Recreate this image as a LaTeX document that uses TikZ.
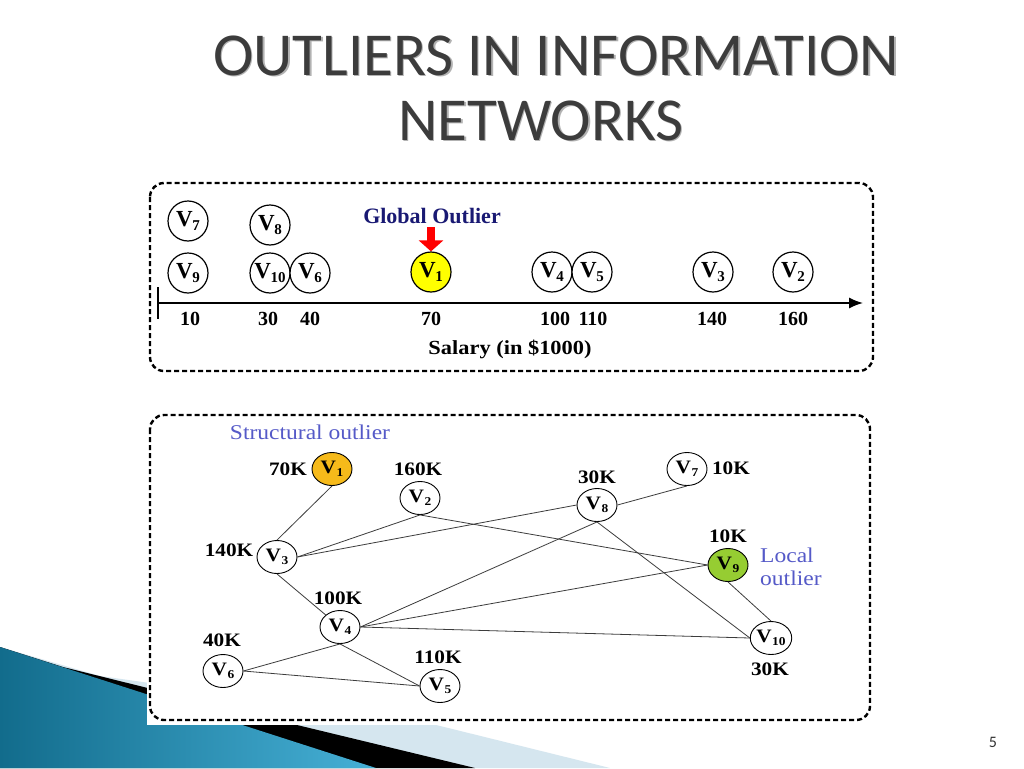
\documentclass[tikz,border=0pt]{standalone}
\usepackage{fontspec}
\setmainfont{Liberation Serif}
\newfontfamily\titlefont{Carlito}
\newfontfamily\gfont{Liberation Serif}[FakeStretch=1.12]
\usetikzlibrary{arrows.meta,shapes.geometric}
\definecolor{titlegray}{RGB}{60,60,60}
\definecolor{navyglobal}{RGB}{25,25,115}
\definecolor{slateblue}{RGB}{85,90,200}
\definecolor{vyellow}{RGB}{255,255,0}
\definecolor{vorange}{RGB}{246,186,26}
\definecolor{vgreen}{RGB}{150,205,50}
\definecolor{tealdark}{RGB}{18,108,140}
\definecolor{teallight}{RGB}{70,176,214}
\definecolor{paleblue}{RGB}{213,230,239}
\definecolor{edgegray}{RGB}{60,60,60}
\newcommand{\topV}[1]{V\kern-0.5pt\raisebox{-4pt}{\fontsize{15}{15}\selectfont #1}}
\newcommand{\grV}[1]{V\kern0.5pt\raisebox{-3.5pt}{\fontsize{12}{12}\selectfont #1}}
\begin{document}
\begin{tikzpicture}[x=1pt,y=-1pt,
  dashbox/.style={draw=black,line width=2.4pt,dash pattern=on 5pt off 3pt,rounded corners=14pt},
  tnode/.style={circle,draw=black,line width=1.2pt,minimum size=40pt,inner sep=0pt,fill=white,
    font=\fontsize{23}{23}\selectfont\bfseries},
  gnode/.style={ellipse,draw=black,line width=0.9pt,minimum width=40pt,minimum height=33pt,inner sep=0pt,fill=white,
    font=\gfont\fontsize{19}{19}\selectfont\bfseries},
  ticklab/.style={font=\fontsize{20}{20}\selectfont\bfseries,inner sep=0pt},
  glab/.style={font=\gfont\fontsize{19}{19}\selectfont\bfseries,inner sep=0pt},
  bluenote/.style={font=\gfont\fontsize{21}{23}\selectfont,text=slateblue,inner sep=0pt},
  gedge/.style={draw=edgegray,line width=0.8pt},
  titletext/.style={anchor=base west,inner sep=0pt,font=\titlefont\fontsize{61}{61}\selectfont}]
\useasboundingbox (0,0) rectangle (1024,768);
\fill[white] (0,0) rectangle (1024,768);
% corner decoration
\fill[paleblue] (0,647) -- (100,676) -- (420,721) -- (610,768) -- (0,768) -- cycle;
\fill[black] (0,647) -- (63,667) -- (297,725) -- (475,768) -- (0,768) -- cycle;
\shade[left color=tealdark,right color=teallight] (0,647) -- (376,768) -- (0,768) -- cycle;
\fill[white] (147,405) rectangle (880,725);
% title
\node[titletext,text=black!30] (t1s) at (214.5,76.5) {OUTLIERS IN INFORMATION};
\node[titletext,text=titlegray] (title1) at (213,75) {OUTLIERS IN INFORMATION};
\node[titletext,text=black!30] (t2s) at (399.5,141.5) {NETWORKS};
\node[titletext,text=titlegray] (title2) at (398,140) {NETWORKS};
\node[text=black!80,font=\titlefont\fontsize{16}{16}\selectfont,inner sep=0pt] (pagenum) at (993,742) {5};
% top box
\draw[dashbox] (150,183) rectangle (873,371);
\node[tnode] (t7) at (188,221) {\topV{7}};
\node[tnode] (t8) at (270,225) {\topV{8}};
\node[tnode] (t9) at (188,273) {\topV{9}};
\node[tnode] (t10) at (270,273) {\topV{10}};
\node[tnode] (t6) at (310,273) {\topV{6}};
\node[tnode,fill=vyellow] (t1) at (431,272) {\topV{1}};
\node[tnode] (t4) at (552,272) {\topV{4}};
\node[tnode] (t5) at (592,272) {\topV{5}};
\node[tnode] (t3) at (713,272) {\topV{3}};
\node[tnode] (t2) at (793,272) {\topV{2}};
\coordinate (ax0) at (158,303);
\coordinate (ax1) at (863,303);
\coordinate (tk0) at (158,287);
\coordinate (tk1) at (158,319);
\draw[line width=1.5pt] (tk0) -- (tk1);
\draw[line width=1.5pt,-{Latex[length=14pt,width=11pt]}] (ax0) -- (ax1);
\node[ticklab] (n10) at (190,319) {10};
\node[ticklab] (n30) at (268,319) {30};
\node[ticklab] (n40) at (310,319) {40};
\node[ticklab] (n70) at (431,319) {70};
\node[ticklab] (n100) at (555,319) {100};
\node[ticklab] (n110) at (593,319) {110};
\node[ticklab] (n140) at (712,319) {140};
\node[ticklab] (n160) at (793,319) {160};
\node[ticklab,font=\gfont\fontsize{20}{20}\selectfont\bfseries] (salary) at (510,349) {Salary (in \$1000)};
\node[ticklab,font=\fontsize{22}{22}\selectfont\bfseries,text=navyglobal] (global) at (432,216) {Global Outlier};
\coordinate (arrtop) at (431,227);
\draw[red,line width=8pt,-{Triangle[length=11pt,width=24pt]}] (arrtop) -- (t1.north);
% bottom box
\draw[dashbox] (150,415) rectangle (870,720);
\node[bluenote] (structural) at (310,432) {Structural outlier};
\node[gnode,fill=vorange] (g1) at (332,469) {\grV{1}};
\node[gnode] (g2) at (420,498) {\grV{2}};
\node[gnode] (g3) at (277,557) {\grV{3}};
\node[gnode] (g4) at (340,627) {\grV{4}};
\node[gnode] (g5) at (440,686) {\grV{5}};
\node[gnode] (g6) at (223,671) {\grV{6}};
\node[gnode] (g7) at (687,469) {\grV{7}};
\node[gnode] (g8) at (597,505) {\grV{8}};
\node[gnode,fill=vgreen] (g9) at (728,565) {\grV{9}};
\node[gnode] (g10) at (771,638) {\grV{10}};
\node[glab] (l1) at (288,469) {70K};
\node[glab] (l2) at (418,469) {160K};
\node[glab] (l3) at (229,550) {140K};
\node[glab] (l4) at (338,598) {100K};
\node[glab] (l6) at (222,640) {40K};
\node[glab] (l5) at (438,657) {110K};
\node[glab] (l8) at (597,477) {30K};
\node[glab] (l7) at (731,468) {10K};
\node[glab] (l9) at (728,536) {10K};
\node[glab] (l10) at (770,669) {30K};
\node[bluenote,align=left,anchor=north west] (local) at (760,548) {Local\\outlier};
% edges
\draw[gedge] (g1.south) -- (g3.north);
\draw[gedge] (g3.east) -- (g2.south);
\draw[gedge] (g3.east) -- (g8.west);
\draw[gedge] (g2.south) -- (g9.west);
\draw[gedge] (g3.south) -- (g4);
\draw[gedge] (g4.east) -- (g8.south);
\draw[gedge] (g4.east) -- (g9.west);
\draw[gedge] (g4.east) -- (g10.west);
\draw[gedge] (g4.south) -- (g6.east);
\draw[gedge] (g4.south) -- (g5.west);
\draw[gedge] (g6.east) -- (g5.west);
\draw[gedge] (g8.east) -- (g7.south);
\draw[gedge] (g8.south) -- (g10.west);
\draw[gedge] (g9.south) -- (g10.north);
\end{tikzpicture}
\end{document}
